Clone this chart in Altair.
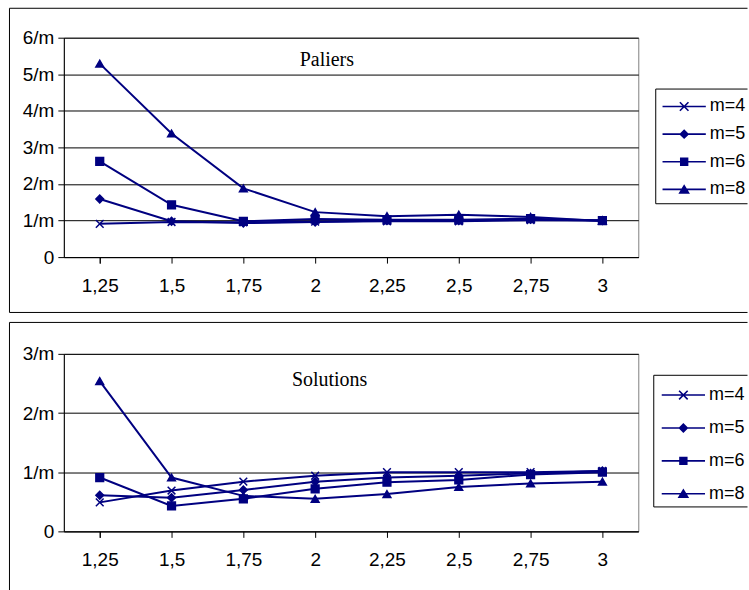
import altair as alt
import pandas as pd

categories = ["1,25", "1,5", "1,75", "2", "2,25", "2,5", "2,75", "3"]
series = ["m=4", "m=5", "m=6", "m=8"]

# Panel "Paliers" (values in units of 1/m)
paliers_m4 = [0.91, 0.96, 0.95, 0.97, 0.98, 0.98, 1.01, 1.00]
paliers_m5 = [1.59, 0.98, 0.93, 0.96, 1.00, 1.00, 1.03, 1.00]
paliers_m6 = [2.62, 1.43, 0.98, 1.04, 1.02, 1.02, 1.05, 1.00]
paliers_m8 = [5.29, 3.38, 1.88, 1.23, 1.12, 1.16, 1.10, 0.99]

# Panel "Solutions"
solutions_m4 = [0.49, 0.69, 0.84, 0.94, 1.00, 1.00, 1.00, 1.02]
solutions_m5 = [0.61, 0.57, 0.70, 0.84, 0.91, 0.94, 0.98, 1.02]
solutions_m6 = [0.91, 0.43, 0.55, 0.72, 0.83, 0.87, 0.96, 1.00]
solutions_m8 = [2.54, 0.91, 0.60, 0.55, 0.63, 0.75, 0.81, 0.84]

NAVY = "#000080"
SANS = "Liberation Sans"
SERIF = "Liberation Serif"

marker_shapes = ["M-1,-1L1,1M-1,1L1,-1", "diamond", "square", "triangle-up"]
marker_sizes = [60, 60, 46, 76]

# ---- legend symbols: line + marker drawn as filled paths (px -> symbol units)
U = 7.0          # px per symbol unit (symbol size 196 -> sqrt/2 = 7)
C = 9.0          # symbol centre inside the legend entry
MX = 21.7        # marker centre (px from entry start)
LINE_END = 43.4


def pt(px, py):
    return "%.3f,%.3f" % ((px - C) / U, py / U)


def poly(points):
    return "M" + "L".join(pt(x, y) for x, y in points) + "Z"


def line_part(h=0.8):
    return poly([(0, -h), (LINE_END, -h), (LINE_END, h), (0, h)])


def x_marker(a=4.3, t=0.8):
    d = t * 0.7071
    bar1 = poly([(MX - a + d, -a - d), (MX + a + d, a - d), (MX + a - d, a + d), (MX - a - d, -a + d)])
    bar2 = poly([(MX - a - d, a - d), (MX + a - d, -a - d), (MX + a + d, -a + d), (MX - a + d, a + d)])
    return bar1 + bar2


legend_shapes = [
    line_part() + x_marker(),
    line_part() + poly([(MX - 5, 0), (MX, -5), (MX + 5, 0), (MX, 5)]),
    line_part() + poly([(MX - 4.2, -4.2), (MX + 4.2, -4.2), (MX + 4.2, 4.2), (MX - 4.2, 4.2)]),
    line_part() + poly([(MX, -5.2), (MX + 5.8, 4.3), (MX - 5.8, 4.3)]),
]

ONE = pd.DataFrame({"f": [0]})


def hrule(x1, x2, y):
    return alt.Chart(ONE).mark_rule(color="black", strokeWidth=1).encode(
        x=alt.value(x1), x2=alt.value(x2), y=alt.value(y))


def vrule(x, y1, y2):
    return alt.Chart(ONE).mark_rule(color="black", strokeWidth=1).encode(
        x=alt.value(x), y=alt.value(y1), y2=alt.value(y2))


def long_df(cols):
    rows = []
    for s, vals in zip(series, cols):
        for c, v in zip(categories, vals):
            rows.append({"x": c, "v": v, "m": s})
    return pd.DataFrame(rows)


def panel(df, ymax, height, title, title_pos, frame_rules, lx, ly, rowpad):
    x = alt.X(
        "x:N",
        sort=categories,
        scale=alt.Scale(domain=categories, paddingInner=0, paddingOuter=0),
        axis=alt.Axis(
            title=None, labelAngle=0, bandPosition=1, tickExtra=True,
            tickSize=6, tickColor="black", domainColor="black", grid=False,
            labelFont=SANS, labelFontSize=19, labelColor="black", labelPadding=13,
        ),
    )
    y = alt.Y(
        "v:Q",
        scale=alt.Scale(domain=[0, ymax], nice=False, zero=True),
        axis=alt.Axis(
            title=None, values=list(range(0, ymax + 1)),
            labelExpr="datum.value == 0 ? '0' : datum.value + '/m'",
            grid=True, gridColor="black", gridWidth=1,
            tickSize=6, tickColor="black", domainColor="black",
            labelFont=SANS, labelFontSize=19, labelColor="black", labelPadding=4,
        ),
    )
    base = alt.Chart(df)
    lines = base.mark_line(color=NAVY, strokeWidth=2).encode(x=x, y=y, detail="m:N")
    points = base.mark_point(
        filled=True, color=NAVY, stroke=NAVY, strokeWidth=1.5, opacity=1
    ).encode(
        x=x, y=y,
        shape=alt.Shape("m:N", scale=alt.Scale(domain=series, range=marker_shapes), legend=None),
        size=alt.Size("m:N", scale=alt.Scale(domain=series, range=marker_sizes), legend=None),
    )
    legend_layer = base.transform_filter("false").mark_point(
        filled=True, color=NAVY, size=196, opacity=1, strokeWidth=0
    ).encode(
        shape=alt.Shape(
            "m:N",
            scale=alt.Scale(domain=series, range=legend_shapes),
            legend=alt.Legend(
                title=None, orient="none", legendX=lx, legendY=ly,
                padding=0, rowPadding=rowpad,
                labelFont=SANS, labelFontSize=18, labelColor="black",
                labelOffset=LINE_END + 4 - 2 * C,
                symbolSize=196, symbolStrokeWidth=0, symbolFillColor=NAVY,
            ),
        )
    )
    tx, ty = title_pos
    title_layer = alt.Chart(ONE).mark_text(
        text=title, font=SERIF, fontSize=20, color="black",
        align="center", baseline="alphabetic",
    ).encode(x=alt.value(tx), y=alt.value(ty))

    layers = frame_rules + [lines, points, legend_layer, title_layer]
    return alt.layer(*layers).resolve_scale(shape="independent").properties(
        width=576, height=height
    )


RIGHT = 685.5  # right edge of the window, relative to the plot origin

top_frame = [
    hrule(-54.5, RIGHT, -29.5), hrule(-54.5, RIGHT, 275.5), vrule(-54.5, -29.5, 275.5),
    hrule(593.5, RIGHT, 51.5), hrule(593.5, RIGHT, 166.5), vrule(593.5, 51.5, 166.5),
]
bottom_frame = [
    hrule(-54.5, RIGHT, -31.5), vrule(-54.5, -31.5, 237),
    hrule(591.5, RIGHT, 21.5), hrule(591.5, RIGHT, 153.5), vrule(591.5, 21.5, 153.5),
]

top = panel(
    long_df([paliers_m4, paliers_m5, paliers_m6, paliers_m8]), 6, 220, "Paliers",
    (263.7, 28.3), top_frame, 600.3, 60, 9.7,
)
bottom = panel(
    long_df([solutions_m4, solutions_m5, solutions_m6, solutions_m8]), 3, 178, "Solutions",
    (266.5, 32.3), bottom_frame, 599.5, 32.3, 15,
)

chart = alt.vconcat(top, bottom, spacing=7).properties(
    padding={"left": 8, "top": 6, "right": 0, "bottom": 0}
).configure_view(stroke="#808080", strokeWidth=1)

chart.save("out.html", embed_options={"renderer": "svg", "actions": False})
